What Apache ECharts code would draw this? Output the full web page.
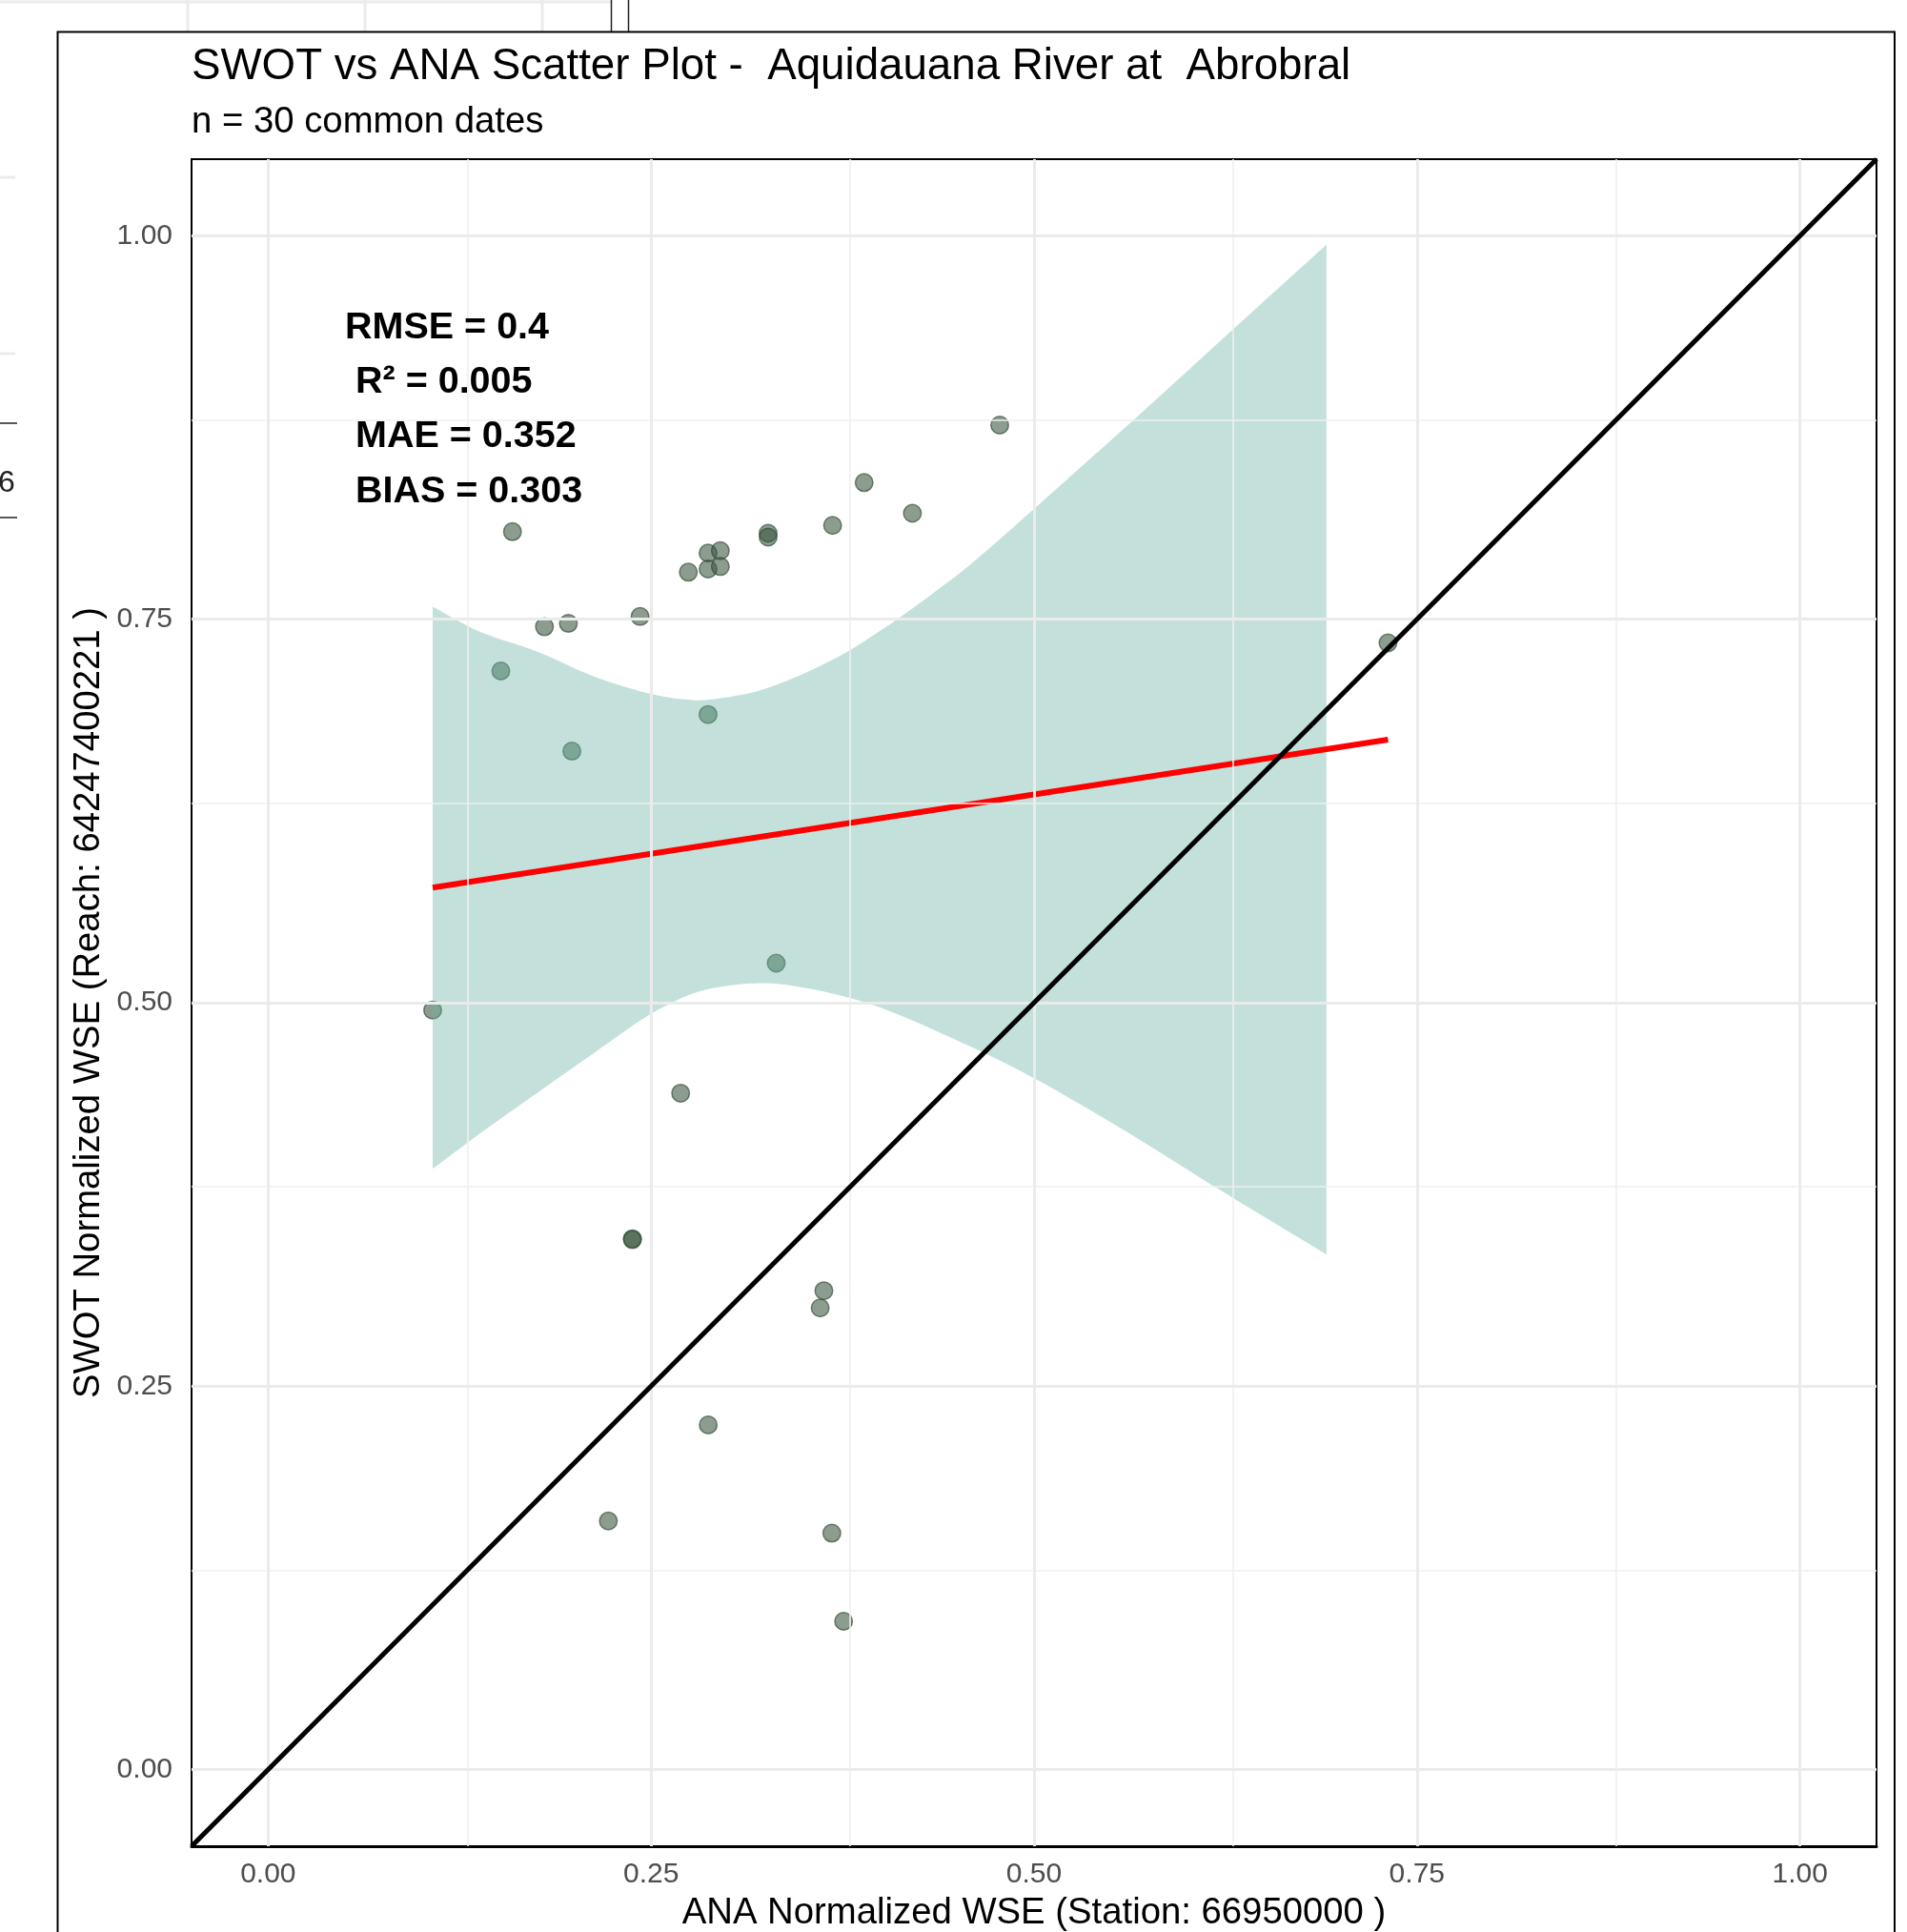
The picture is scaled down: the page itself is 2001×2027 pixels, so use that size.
<!DOCTYPE html>
<html><head><meta charset="utf-8">
<script src="https://cdn.jsdelivr.net/npm/echarts@6/dist/echarts.min.js"></script>
<style>html,body{margin:0;padding:0;background:#fff;}#c{width:2001px;height:2027px;}</style>
</head><body><div id="c"></div>
<script>
const FONT = "'Liberation Sans', Arial, Helvetica, sans-serif";

// ANA normalized WSE (x) and SWOT normalized WSE (y), 30 common dates
const anaX = [0.1595, 0.1804, 0.1960, 0.2428, 0.1519, 0.2872, 0.2743, 0.2872, 0.2952, 0.2872,
              0.2952, 0.3264, 0.3264, 0.3685, 0.3891, 0.4206, 0.4776, 0.1983, 0.7311, 0.1074,
              0.3317, 0.2693, 0.2378, 0.2378, 0.3628, 0.3604, 0.2873, 0.2221, 0.3680, 0.3757];
const swotY = [0.8071, 0.7451, 0.7473, 0.7518, 0.7163, 0.6879, 0.7807, 0.7932, 0.7947, 0.7828,
               0.7844, 0.8061, 0.8036, 0.8112, 0.8391, 0.8191, 0.8766, 0.6640, 0.7346, 0.4952,
               0.5258, 0.4410, 0.3461, 0.3455, 0.3122, 0.3010, 0.2247, 0.1621, 0.1541, 0.0967];

// Confidence band edges
const ciUpperX = [0.1074, 0.1378, 0.1758, 0.2139, 0.2507, 0.2785, 0.2985, 0.3192, 0.3399, 0.3606,
                  0.3755, 0.3916, 0.4102, 0.4330, 0.4537, 0.4744, 0.5003, 0.5598, 0.6243, 0.6909];
const ciUpper  = [0.7582, 0.7420, 0.7289, 0.7123, 0.7012, 0.6972, 0.6990, 0.7031, 0.7104, 0.7197,
                  0.7274, 0.7373, 0.7497, 0.7662, 0.7818, 0.7994, 0.8222, 0.8753, 0.9340, 0.9943];
const ciLowerX = [0.1074, 0.1378, 0.1758, 0.2139, 0.2507, 0.2823, 0.3241, 0.3659, 0.4039, 0.4609, 0.5001, 0.5559, 0.6243, 0.6909];
const ciLower  = [0.3917, 0.4144, 0.4413, 0.4680, 0.4931, 0.5076, 0.5127, 0.5065, 0.4952, 0.4703, 0.4507, 0.4186, 0.3761, 0.3358];

// Linear fit and 1:1 line
const fitX = [0.1074, 0.7311];
const fitY = [0.5750, 0.6715];
const diagX = [-0.05, 1.05];
const diagY = [-0.05, 1.05];

const majorTicks = [0, 0.25, 0.5, 0.75, 1];
const minorTicks = [0.125, 0.375, 0.625, 0.875];

const titleText = 'SWOT vs ANA Scatter Plot -  Aquidauana River at  Abrobral';
const subtitleText = 'n = 30 common dates';
const xName = 'ANA Normalized WSE (Station: 66950000 )';
const yName = 'SWOT Normalized WSE (Reach: 64247400221 )';
const statLines = ['RMSE = 0.4', ' R\u00B2 = 0.005', ' MAE = 0.352', ' BIAS = 0.303'];

const chart = echarts.init(document.getElementById('c'), null, {renderer: 'canvas'});

function gridLines(vals) {
  const d = [];
  vals.forEach(v => { d.push({xAxis: v}); d.push({yAxis: v}); });
  return d;
}

const scatterData = anaX.map((x, i) => [x, swotY[i]]);
const fitData = fitX.map((x, i) => [x, fitY[i]]);
const diagData = diagX.map((x, i) => [x, diagY[i]]);

const statGraphics = statLines.map((t, i) => ({
  type: 'text', x: 362, y: 344 + i * 57.3, z: 100,
  style: {text: t, font: 'bold 39.5px ' + FONT, fill: '#000', align: 'left', verticalAlign: 'middle'}
}));

const option = {
  backgroundColor: '#fff',
  animation: false,
  grid: {left: 201, top: 167, width: 1768, height: 1770, show: true, borderColor: '#000', borderWidth: 2, backgroundColor: 'transparent'},
  xAxis: {
    type: 'value', min: -0.05, max: 1.05,
    splitLine: {show: false}, axisTick: {show: false},
    axisLine: {show: true, onZero: false, lineStyle: {color: '#000', width: 3}},
    axisLabel: {customValues: majorTicks, formatter: v => v.toFixed(2), fontSize: 30, color: '#4d4d4d', fontFamily: FONT, margin: 15}
  },
  yAxis: {
    type: 'value', min: -0.05, max: 1.05,
    splitLine: {show: false}, axisTick: {show: false},
    axisLine: {show: false, onZero: false},
    axisLabel: {customValues: majorTicks, formatter: v => v.toFixed(2), fontSize: 30, color: '#4d4d4d', fontFamily: FONT, margin: 20}
  },
  series: [
    {
      type: 'line', z: 1, data: [[0, 0]], showSymbol: false, symbol: 'none', silent: true,
      lineStyle: {opacity: 0},
      markLine: {silent: true, symbol: 'none', label: {show: false}, animation: false,
        lineStyle: {color: '#efefef', width: 1.6, type: 'solid'}, data: gridLines(minorTicks)}
    },
    {
      type: 'line', z: 1, data: [[0, 0]], showSymbol: false, symbol: 'none', silent: true,
      lineStyle: {opacity: 0},
      markLine: {silent: true, symbol: 'none', label: {show: false}, animation: false,
        lineStyle: {color: '#ebebeb', width: 3, type: 'solid'}, data: gridLines(majorTicks)}
    },
    {
      type: 'scatter', z: 2, data: scatterData, symbolSize: 18.5,
      itemStyle: {color: 'rgba(55,85,60,0.72)', borderColor: 'rgba(45,70,50,0.8)', borderWidth: 1.5}
    },
    {
      type: 'custom', z: 3, silent: true, data: [[0, 0]],
      renderItem: function (params, api) {
        const pts = [];
        const n = ciUpperX.length, m = ciLowerX.length;
        for (let i = 0; i < n; i++) {
          const p = api.coord([ciUpperX[i], ciUpper[i]]);
          pts.push(p);
          if (i === 0 || i === n - 1) pts.push(p.slice());
        }
        for (let i = m - 1; i >= 0; i--) {
          const p = api.coord([ciLowerX[i], ciLower[i]]);
          pts.push(p);
          if (i === 0 || i === m - 1) pts.push(p.slice());
        }
        return {type: 'polygon', shape: {points: pts, smooth: 0.3}, style: {fill: 'rgba(105,179,162,0.4)'}};
      }
    },
    {
      type: 'line', z: 4, data: fitData, symbol: 'none', silent: true,
      lineStyle: {color: '#ff0000', width: 6}
    },
    {
      type: 'line', z: 5, data: diagData, symbol: 'none', silent: true,
      lineStyle: {color: '#000', width: 5}
    }
  ],
  graphic: [
    // outer plot border
    {type: 'rect', shape: {x: 60.5, y: 33.5, width: 1927.5, height: 2100}, style: {fill: 'none', stroke: '#000', lineWidth: 2}, z: 50},
    // background remnants
    {type: 'line', shape: {x1: 0, y1: 2, x2: 641, y2: 2}, style: {stroke: '#ebebeb', lineWidth: 3}},
    {type: 'line', shape: {x1: 197, y1: 0, x2: 197, y2: 33}, style: {stroke: '#ebebeb', lineWidth: 3}},
    {type: 'line', shape: {x1: 383, y1: 0, x2: 383, y2: 33}, style: {stroke: '#ebebeb', lineWidth: 3}},
    {type: 'line', shape: {x1: 569, y1: 0, x2: 569, y2: 33}, style: {stroke: '#ebebeb', lineWidth: 3}},
    {type: 'line', shape: {x1: 641.5, y1: 0, x2: 641.5, y2: 33}, style: {stroke: '#222', lineWidth: 1.5}},
    {type: 'line', shape: {x1: 659.5, y1: 0, x2: 659.5, y2: 33}, style: {stroke: '#222', lineWidth: 1.5}},
    {type: 'line', shape: {x1: 0, y1: 186, x2: 16, y2: 186}, style: {stroke: '#ebebeb', lineWidth: 3}},
    {type: 'line', shape: {x1: 0, y1: 371, x2: 16, y2: 371}, style: {stroke: '#ebebeb', lineWidth: 3}},
    {type: 'line', shape: {x1: 0, y1: 444, x2: 18, y2: 444}, style: {stroke: '#222', lineWidth: 1.5}},
    {type: 'line', shape: {x1: 0, y1: 543, x2: 18, y2: 543}, style: {stroke: '#222', lineWidth: 1.5}},
    {type: 'text', x: -2, y: 507, style: {text: '6', font: '32px ' + FONT, fill: '#222', align: 'left', verticalAlign: 'middle'}},
    // titles
    {type: 'text', x: 201, y: 70.5, style: {text: titleText, font: '45.7px ' + FONT, fill: '#000', align: 'left', verticalAlign: 'middle'}},
    {type: 'text', x: 201, y: 128.5, style: {text: subtitleText, font: '38.3px ' + FONT, fill: '#000', align: 'left', verticalAlign: 'middle'}},
    // axis names
    {type: 'text', x: 1085, y: 2007, style: {text: xName, font: '38.3px ' + FONT, fill: '#000', align: 'center', verticalAlign: 'middle'}},
    {type: 'text', x: 93, y: 1052, rotation: Math.PI / 2, style: {text: yName, font: '38.3px ' + FONT, fill: '#000', align: 'center', verticalAlign: 'middle'}}
  ].concat(statGraphics)
};
chart.setOption(option);
</script>
</body></html>
